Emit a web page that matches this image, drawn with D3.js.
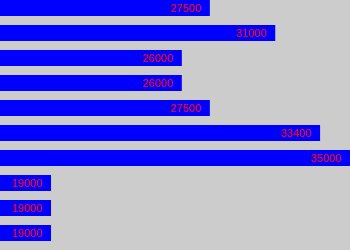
<!DOCTYPE html>
<html>
<head>
<meta charset="utf-8">
<script src="https://cdn.jsdelivr.net/npm/d3@7"></script>
<style>
  body { margin: 0; background: #cccccc; }
  svg { display: block; }
  .valLabel { font-family: "Liberation Sans", Arial, sans-serif; font-size: 11px; fill: #ff0000; }
</style>
</head>
<body>
<div id="chart"></div>
<script>
// salary values, one per bar (top to bottom)
var categories = ["r1", "r2", "r3", "r4", "r5", "r6", "r7", "r8", "r9", "r10"];
var values = [27500, 31000, 26000, 26000, 27500, 33400, 35000, 19000, 19000, 19000];

var width = 350, height = 250;

var svg = d3.select("#chart").append("svg")
  .attr("width", width)
  .attr("height", height);

svg.append("rect")
  .attr("width", width).attr("height", height)
  .attr("fill", "#cccccc");

// axis does not start at zero
var x = d3.scaleLinear()
  .domain([16270, d3.max(values)])
  .range([0, width]);

var y = d3.scaleBand()
  .domain(categories)
  .range([0, 241])
  .paddingInner(0.36)
  .paddingOuter(0);

var bars = svg.selectAll(".bar")
  .data(values)
  .enter().append("g")
  .attr("class", "bar");

bars.append("rect")
  .attr("x", 0)
  .attr("y", function(d, i) { return y(categories[i]); })
  .attr("width", function(d) { return x(d); })
  .attr("height", y.bandwidth())
  .attr("fill", "#0000ff");

bars.append("text")
  .attr("class", "valLabel")
  .attr("text-anchor", "end")
  .attr("x", function(d) { return x(d) - 9; })
  .attr("y", function(d, i) { return y(categories[i]) + 12; })
  .text(function(d) { return d; });
</script>
</body>
</html>
